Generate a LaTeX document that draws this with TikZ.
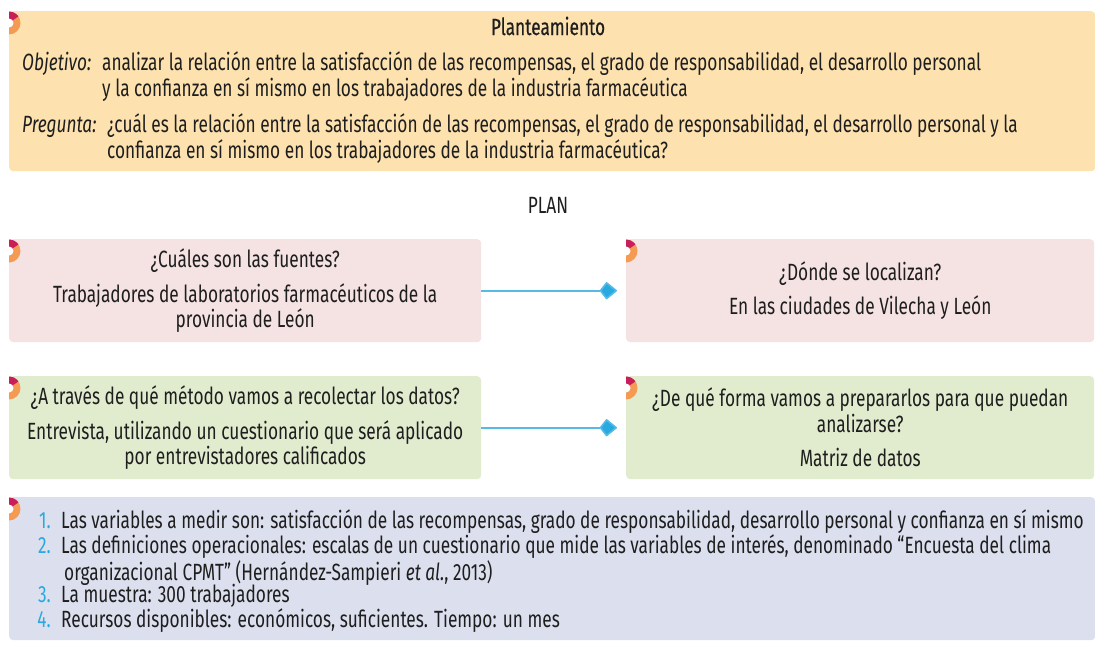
\documentclass[tikz,border=0pt]{standalone}
\usepackage{fontspec}
\setmainfont{Fira Sans}[FakeStretch=0.735]
\newfontfamily\titlefont{Fira Sans}[FakeStretch=0.735,FakeBold=0.4]
\usetikzlibrary{arrows.meta}

\definecolor{amarillo}{HTML}{FDE1AE}
\definecolor{rosa}{HTML}{F5E2E2}
\definecolor{verde}{HTML}{E1ECCF}
\definecolor{lavanda}{HTML}{DCDFEE}
\definecolor{celeste}{HTML}{2AA9E0}
\definecolor{naranja}{HTML}{F59A52}
\definecolor{carmin}{HTML}{C81E5A}
\definecolor{tinta}{HTML}{1E1E1E}

% little mark at the top left corner of a box
\newcommand{\marca}[1]{%
  \path ([yshift=-12pt]#1.north west) coordinate (#1-m);
  \fill[naranja] (#1-m) -- ++(0,11.5pt) arc[start angle=90,end angle=-90,radius=11.5pt] -- cycle;
  \fill[carmin] (#1-m) -- ++(0,11.5pt) arc[start angle=90,end angle=35,radius=11.5pt] -- cycle;
  \fill[white] (#1-m) circle[radius=4.5pt];
}
% lines kept on the baseline of the first one
\newcommand{\lineas}[1]{\begin{tabular}[t]{@{}l@{}}#1\end{tabular}}

\begin{document}
\begin{tikzpicture}[
    x=1pt, y=-1pt,
    every node/.append style={font=\fontsize{23.5pt}{25.5pt}\selectfont, text=tinta},
    caja/.style={draw=none, inner sep=0pt, rounded corners=4pt, anchor=north west},
    mitad/.style={caja, minimum width=472pt, minimum height=103pt, align=center},
    linea/.style={anchor=base west, inner sep=0pt},
    num/.style={anchor=base east, inner sep=0pt, text=celeste},
    flecha/.style={draw=celeste!80!white, line width=1.6pt, shorten >=9pt,
      -{Kite[length=18pt,width=18pt,inset=7pt,fill=celeste,round]}}
    ]
    \useasboundingbox (0,0) rectangle (1095,648);

    % Planteamiento
    \node[caja, fill=amarillo, minimum width=1086pt, minimum height=160pt] (plant) at (9,11) {};
    \marca{plant}
    \node[font=\titlefont\fontsize{23.5pt}{25.5pt}\selectfont, anchor=base, inner sep=0pt] (titulo) at (548,35) {Planteamiento};
    \node[linea] (objetivo) at (22,70) {\itshape Objetivo:};
    \node[linea] (objtexto) at (102,70) {\lineas{analizar la relación entre la satisfacción de las recompensas, el grado de responsabilidad, el desarrollo personal\\y la confianza en sí mismo en los trabajadores de la industria farmacéutica}};
    \node[linea] (pregunta) at (22,132) {\itshape Pregunta:};
    \node[linea] (pretexto) at (107,132) {\lineas{¿cuál es la relación entre la satisfacción de las recompensas, el grado de responsabilidad, el desarrollo personal y la\\confianza en sí mismo en los trabajadores de la industria farmacéutica?}};

    \node[anchor=base, inner sep=0pt] (plan) at (548,213) {PLAN};

    % fuentes y lugar
    \node[mitad, fill=rosa] (fuentes) at (9,239) {¿Cuáles son las fuentes?\\[9pt]Trabajadores de laboratorios farmacéuticos de la\\provincia de León};
    \node[mitad, fill=rosa, minimum width=468pt] (lugar) at (626,239) {¿Dónde se localizan?\\[9pt]En las ciudades de Vilecha y León};
    \marca{fuentes}
    \marca{lugar}

    % metodo y datos
    \node[mitad, fill=verde] (metodo) at (9,376) {¿A través de qué método vamos a recolectar los datos?\\[9pt]Entrevista, utilizando un cuestionario que será aplicado\\por entrevistadores calificados};
    \node[mitad, fill=verde, minimum width=468pt] (datos) at (626,376) {¿De qué forma vamos a prepararlos para que puedan\\analizarse?\\[9pt]Matriz de datos};
    \marca{metodo}
    \marca{datos}

    \draw[flecha] (fuentes) -- (lugar);
    \draw[flecha] (metodo) -- (datos);

    % lista
    \node[caja, fill=lavanda, minimum width=1086pt, minimum height=143pt] (lista) at (9,497) {};
    \marca{lista}
    \node[num] (n1) at (51,528) {1.};
    \node[linea] (i1) at (61,528) {Las variables a medir son: satisfacción de las recompensas, grado de responsabilidad, desarrollo personal y confianza en sí mismo};
    \node[num] (n2) at (51,553) {2.};
    \node[linea] (i2) at (61,553) {\lineas{Las definiciones operacionales: escalas de un cuestionario que mide las variables de interés, denominado “Encuesta del clima\\\hspace{3pt}organizacional CPMT” (Hernández-Sampieri \textit{et al.}, 2013)}};
    \node[num] (n3) at (51,602) {3.};
    \node[linea] (i3) at (61,602) {La muestra: 300 trabajadores};
    \node[num] (n4) at (51,627) {4.};
    \node[linea] (i4) at (61,627) {Recursos disponibles: económicos, suficientes. Tiempo: un mes};
\end{tikzpicture}
\end{document}
